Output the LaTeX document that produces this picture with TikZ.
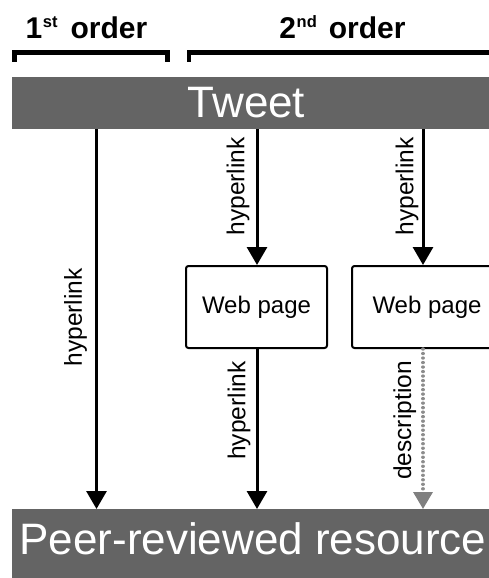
\documentclass[tikz,border=0pt]{standalone}
\usepackage{fontspec}
\setmainfont{Liberation Sans}
\usetikzlibrary{arrows.meta,calc}
\definecolor{barg}{RGB}{100,100,100}
\definecolor{dotg}{RGB}{140,140,140}
\definecolor{tipg}{RGB}{128,128,128}
\tikzset{
  barbox/.style={fill=barg, draw=none, inner sep=0pt, minimum height=52pt},
  bartext/.style={text=white, inner sep=0pt, anchor=base, font=\fontsize{44}{44}\selectfont},
  hdr/.style={inner sep=0pt, anchor=base, font=\fontsize{30}{30}\selectfont\bfseries},
  bracket/.style={line width=4.6pt, miter limit=10},
  webbox/.style={draw=black, line width=2pt, rounded corners=2.5pt, fill=white,
    minimum width=141pt, minimum height=82pt, inner sep=0pt, font=\fontsize{24}{24}\selectfont},
  arr/.style={line width=3pt, -{Triangle[width=20pt,length=18pt]}},
  darr/.style={line width=3.4pt, dotg, dash pattern=on 0.01pt off 4.5pt, line cap=round,
    -{Triangle[width=19pt,length=17pt,color=tipg]}},
  lbl/.style={rotate=90, anchor=south, inner xsep=0pt, font=\fontsize{24.5}{24.5}\selectfont}
}
\newcommand{\supr}[1]{\raisebox{11pt}{\fontsize{16.5}{16.5}\selectfont\bfseries #1}}
\begin{document}
\begin{tikzpicture}[x=1pt,y=-1pt]
\useasboundingbox (0,0) rectangle (489,578);
\clip (0,0) rectangle (489,578);
% headers
\node[hdr] (h1) at (86.5,39) {1\hspace{0.5pt}\supr{st}\hspace{13pt}order};
\node[hdr] (h2) at (342.5,39) {2\hspace{0.5pt}\supr{nd}\hspace{12pt}order};
\draw[bracket] (14.3,61.7) -- (14.3,52.5) -- (167.7,52.5) -- (167.7,61.7);
\draw[bracket] (189,61.7) -- (189,52.3) -- (500,52.3);
% bars
\node[barbox, minimum width=480pt, anchor=north west] (tweet) at (12,77) {};
\node[bartext] (tweettxt) at (246.5,117.5) {Tweet};
\node[barbox, minimum width=480pt, minimum height=72pt, anchor=north west] (peer) at (12,509) {};
\node[bartext] (peertxt) at (253,554) {Peer-reviewed resource};
% boxes
\node[webbox] (wp1) at (256.5,307) {Web page};
\node[webbox, minimum width=150pt] (wp2) at (427,307) {Web page};
% arrow columns
\coordinate (c1) at (96.5,0);
\coordinate (c2) at (257,0);
\coordinate (c3) at (423,0);
\draw[arr] (tweet.south -| c1) -- node[lbl, pos=0.495, inner ysep=8pt] {hyperlink} (peer.north -| c1);
\draw[arr] (tweet.south -| c2) -- node[lbl, pos=0.42, inner ysep=6pt] {hyperlink} (wp1.north -| c2);
\draw[arr] (tweet.south -| c3) -- node[lbl, pos=0.42, inner ysep=3pt] {hyperlink} (wp2.north -| c3);
\draw[arr] (wp1.south -| c2) -- node[lbl, pos=0.385, inner ysep=5pt] {hyperlink} (peer.north -| c2);
\draw[darr] (wp2.south -| c3) -- node[lbl, text=black, pos=0.447, inner ysep=5pt] {description} (peer.north -| c3);
\end{tikzpicture}
\end{document}
